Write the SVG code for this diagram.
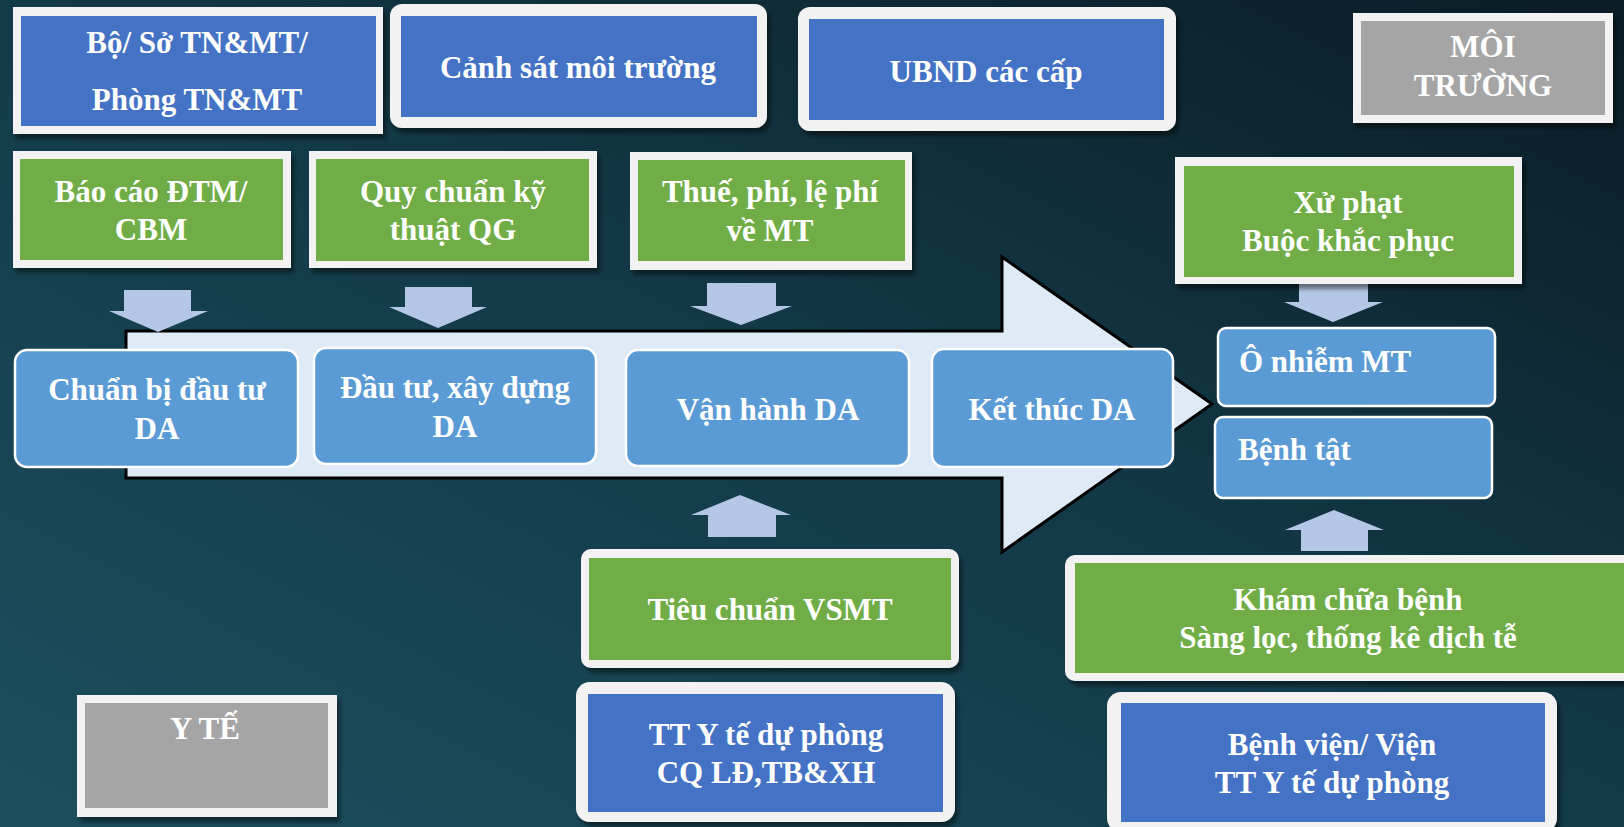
<svg xmlns="http://www.w3.org/2000/svg" width="1624" height="827" viewBox="0 0 1624 827">
<defs>
<linearGradient id="bg" x1="0" y1="1" x2="1" y2="0">
<stop offset="0" stop-color="#1c4f5f"/>
<stop offset="0.5" stop-color="#133a48"/>
<stop offset="1" stop-color="#0a1c25"/>
</linearGradient>
<filter id="sh" x="-10%" y="-10%" width="130%" height="140%">
<feDropShadow dx="3" dy="5" stdDeviation="2" flood-color="#000" flood-opacity="0.45"/>
</filter>
<style>
.frame{fill:#f2f2f2;filter:url(#sh)}
.blue{fill:#4472c4}
.green{fill:#70ad47}
.grey{fill:#a5a5a5}
.proc{fill:#5b9bd5;stroke:#ffffff;stroke-width:2.5}
.ba{fill:#b4c7e7}
text{font-family:"Liberation Serif","Times New Roman",serif;font-weight:bold;font-size:31px;fill:#ffffff;text-anchor:middle}
.l{text-anchor:start}
</style>
</defs>
<rect width="1624" height="827" fill="url(#bg)"/>

<g id="connectors">
<path id="bigArrow" d="M126,331 H1002 V257 L1212,404 L1002,552 V478 H126 Z" fill="#deeaf6" stroke="#000" stroke-width="3" stroke-linejoin="miter"/>
<path class="ba" d="M124,290 H191 V311 H208 L158,332 L109,311 H124 Z"/>
<path class="ba" d="M405,287 H472 V307 H487 L438,328 L389,307 H405 Z"/>
<path class="ba" d="M707,283 H776 V306 H792 L741,325 L690,306 H707 Z"/>
<path class="ba" d="M1299,280 H1368 V302 H1383 L1333,322 L1284,302 H1299 Z"/>
<path class="ba" d="M740,495 L791,515 H776 V537 H708 V515 H691 Z"/>
<path class="ba" d="M1334,510 L1384,530 H1368 V551 H1301 V530 H1285 Z"/>
</g>

<g id="n-bo">
<rect class="frame" x="13" y="7" width="370" height="127"/>
<rect class="blue" x="21" y="16" width="355" height="110"/>
<text x="197" y="53">Bộ/ Sở TN&amp;MT/</text>
<text x="197" y="110">Phòng TN&amp;MT</text>
</g>
<g id="n-canhsat">
<rect class="frame" x="390" y="4" width="377" height="124" rx="12"/>
<rect class="blue" x="401" y="16" width="356" height="101"/>
<text x="578" y="78">Cảnh sát môi trường</text>
</g>
<g id="n-ubnd">
<rect class="frame" x="798" y="7" width="378" height="124" rx="12"/>
<rect class="blue" x="809" y="19" width="355" height="101"/>
<text x="986" y="82">UBND các cấp</text>
</g>
<g id="n-moitruong">
<rect class="frame" x="1353" y="13" width="260" height="110"/>
<rect class="grey" x="1361" y="21" width="244" height="94"/>
<text x="1483" y="57">MÔI</text>
<text x="1483" y="96">TRƯỜNG</text>
</g>

<g id="n-baocao">
<rect class="frame" x="13" y="151" width="278" height="117"/>
<rect class="green" x="20" y="159" width="263" height="101"/>
<text x="151" y="202">Báo cáo ĐTM/</text>
<text x="151" y="240">CBM</text>
</g>
<g id="n-quychuan">
<rect class="frame" x="309" y="151" width="288" height="117"/>
<rect class="green" x="316" y="159" width="273" height="102"/>
<text x="453" y="202">Quy chuẩn kỹ</text>
<text x="453" y="240">thuật QG</text>
</g>
<g id="n-thue">
<rect class="frame" x="630" y="152" width="282" height="118"/>
<rect class="green" x="638" y="160" width="267" height="101"/>
<text x="770" y="202">Thuế, phí, lệ phí</text>
<text x="770" y="241">về MT</text>
</g>
<g id="n-xuphat">
<rect class="frame" x="1175" y="157" width="347" height="127"/>
<rect class="green" x="1184" y="166" width="330" height="111"/>
<text x="1348" y="213">Xử phạt</text>
<text x="1348" y="251">Buộc khắc phục</text>
</g>

<g id="n-chuanbi">
<rect class="proc" x="15" y="350" width="283" height="117" rx="12"/>
<text x="157" y="400">Chuẩn bị đầu tư</text>
<text x="157" y="439">DA</text>
</g>
<g id="n-dautu">
<rect class="proc" x="314" y="348" width="282" height="116" rx="12"/>
<text x="455" y="398">Đầu tư, xây dựng</text>
<text x="455" y="437">DA</text>
</g>
<g id="n-vanhanh">
<rect class="proc" x="626" y="350" width="283" height="116" rx="12"/>
<text x="768" y="420">Vận hành DA</text>
</g>
<g id="n-ketthuc">
<rect class="proc" x="932" y="349" width="241" height="118" rx="12"/>
<text x="1052" y="420">Kết thúc DA</text>
</g>
<g id="n-onhiem">
<rect class="proc" x="1218" y="328" width="277" height="78" rx="8"/>
<text class="l" x="1239" y="372">Ô nhiễm MT</text>
</g>
<g id="n-benhtat">
<rect class="proc" x="1215" y="417" width="277" height="81" rx="8"/>
<text class="l" x="1238" y="460">Bệnh tật</text>
</g>

<g id="n-tieuchuan">
<rect class="frame" x="581" y="549" width="378" height="119" rx="10"/>
<rect class="green" x="589" y="558" width="362" height="102"/>
<text x="770" y="620">Tiêu chuẩn VSMT</text>
</g>
<g id="n-ttyte">
<rect class="frame" x="576" y="682" width="379" height="140" rx="14"/>
<rect class="blue" x="588" y="694" width="355" height="118"/>
<text x="766" y="745">TT Y tế dự phòng</text>
<text x="766" y="783">CQ LĐ,TB&amp;XH</text>
</g>
<g id="n-kham">
<rect class="frame" x="1065" y="555" width="580" height="126" rx="10"/>
<rect class="green" x="1075" y="563" width="570" height="110"/>
<text x="1348" y="610">Khám chữa bệnh</text>
<text x="1348" y="648">Sàng lọc, thống kê dịch tễ</text>
</g>
<g id="n-benhvien">
<rect class="frame" x="1107" y="692" width="450" height="140" rx="14"/>
<rect class="blue" x="1121" y="703" width="424" height="119"/>
<text x="1332" y="755">Bệnh viện/ Viện</text>
<text x="1332" y="793">TT Y tế dự phòng</text>
</g>
<g id="n-yte">
<rect class="frame" x="77" y="695" width="260" height="122"/>
<rect class="grey" x="85" y="703" width="243" height="105"/>
<text x="205" y="739">Y TẾ</text>
</g>
</svg>
